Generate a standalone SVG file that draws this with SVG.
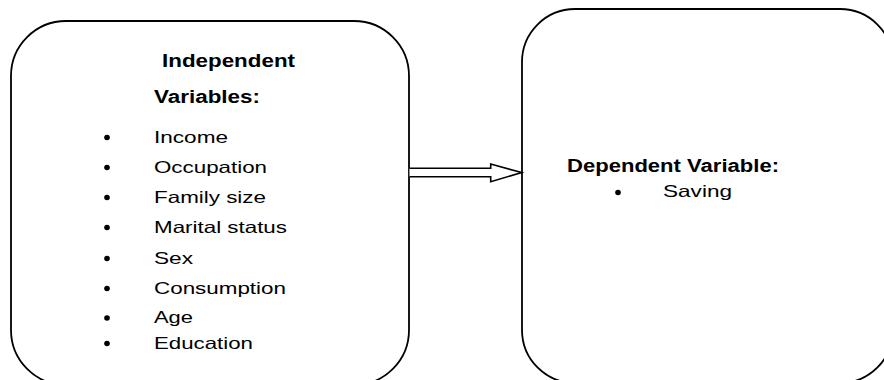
<svg xmlns="http://www.w3.org/2000/svg" width="884" height="380" viewBox="0 0 884 380">
<style>
.box{fill:#fff;stroke:#000;stroke-width:1.8}
.t{font-family:"Liberation Sans",Arial,sans-serif;font-size:16.5px;fill:#000}
.b{font-family:"Liberation Sans",Arial,sans-serif;font-size:18px;font-weight:bold;fill:#000}
.dot{fill:#000}
.arr{fill:#fff;stroke:#000;stroke-width:1.6;stroke-linejoin:miter}
</style>
<rect width="884" height="380" fill="#fff"/>
<g id="independent">
<rect class="box" x="11" y="21" width="398" height="364" rx="55" ry="55"/>
<text class="b" x="162" y="66.5" textLength="133" lengthAdjust="spacingAndGlyphs">Independent</text>
<text class="b" x="154" y="103" textLength="106" lengthAdjust="spacingAndGlyphs">Variables:</text>
<g class="dot">
<circle cx="107" cy="137.5" r="2.8"/>
<circle cx="107" cy="167.5" r="2.8"/>
<circle cx="107" cy="197.5" r="2.8"/>
<circle cx="107" cy="227.5" r="2.8"/>
<circle cx="107" cy="258.5" r="2.8"/>
<circle cx="107" cy="288.5" r="2.8"/>
<circle cx="107" cy="318" r="2.8"/>
<circle cx="107" cy="343.5" r="2.8"/>
</g>
<text class="t" x="154" y="143" textLength="74" lengthAdjust="spacingAndGlyphs">Income</text>
<text class="t" x="154" y="173" textLength="113" lengthAdjust="spacingAndGlyphs">Occupation</text>
<text class="t" x="154" y="203" textLength="112" lengthAdjust="spacingAndGlyphs">Family size</text>
<text class="t" x="154" y="233" textLength="133" lengthAdjust="spacingAndGlyphs">Marital status</text>
<text class="t" x="154" y="264" textLength="39" lengthAdjust="spacingAndGlyphs">Sex</text>
<text class="t" x="154" y="294" textLength="132" lengthAdjust="spacingAndGlyphs">Consumption</text>
<text class="t" x="154" y="323" textLength="39" lengthAdjust="spacingAndGlyphs">Age</text>
<text class="t" x="154" y="349" textLength="99" lengthAdjust="spacingAndGlyphs">Education</text>
</g>
<g id="dependent">
<rect class="box" x="522" y="9" width="371" height="374" rx="53" ry="53"/>
<text class="b" x="567" y="172" textLength="212" lengthAdjust="spacingAndGlyphs">Dependent Variable:</text>
<circle class="dot" cx="618" cy="192.5" r="2.8"/>
<text class="t" x="663" y="197" textLength="69" lengthAdjust="spacingAndGlyphs">Saving</text>
</g>
<g id="connectors">
<path class="arr" d="M409.5,168.3 H490.7 V164 L521.7,172.6 L490.7,181.7 V176.8 H409.5"/>
</g>
</svg>
